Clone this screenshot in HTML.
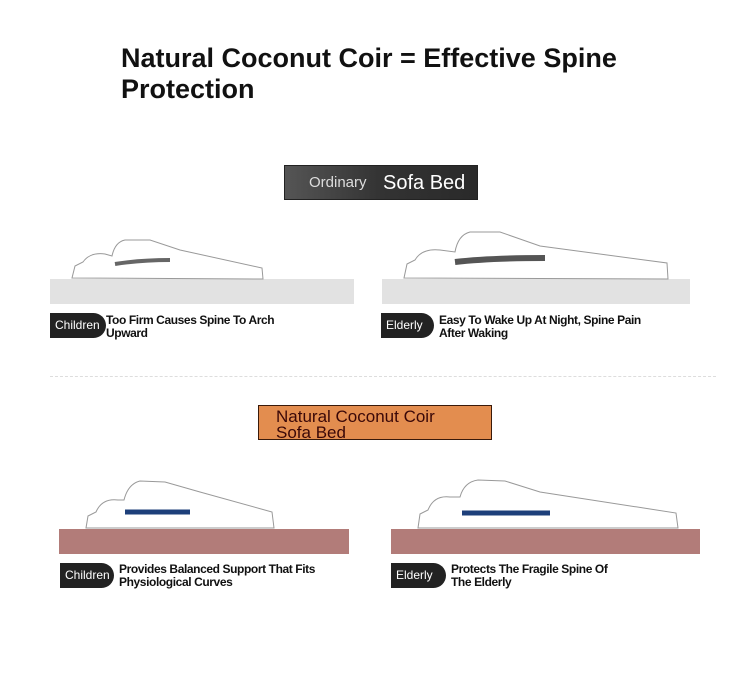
<!DOCTYPE html>
<html><head><style>
body{margin:0;width:750px;height:692px;background:#fff;position:relative;font-family:"Liberation Sans",sans-serif;overflow:hidden}
.a{position:absolute}
.t{font-weight:bold;font-size:27px;color:#111;line-height:31px;left:121px;top:43px}
.m1{background:#e2e2e2}
.m2{background:#b27c79}
.pill{background:#222;color:#fff;font-size:12px;line-height:25px;border-radius:0 13px 13px 0;padding-left:5px;box-sizing:border-box;height:25px}
.lbl{font-size:12px;font-weight:bold;line-height:13px;color:#111;letter-spacing:-0.4px}
svg{position:absolute;left:0;top:0}
</style></head><body>
<div class="a t">Natural Coconut Coir = Effective Spine<br>Protection</div>
<div class="a" style="left:284px;top:165px;width:194px;height:35px;background:linear-gradient(90deg,#555,#333 50%,#2a2a2a);border:1px solid #222;box-sizing:border-box;color:#fff">
<span class="a" style="left:24px;top:8px;font-size:15px;color:#ddd">Ordinary</span>
<span class="a" style="left:98px;top:6px;font-size:20px">Sofa Bed</span></div>
<div class="a m1" style="left:50px;top:279px;width:304px;height:25px"></div>
<div class="a m1" style="left:382px;top:279px;width:308px;height:25px"></div>
<div class="a pill" style="left:50px;top:313px;width:56px">Children</div>
<div class="a lbl" style="left:106px;top:314px">Too Firm Causes Spine To Arch<br>Upward</div>
<div class="a pill" style="left:381px;top:313px;width:53px">Elderly</div>
<div class="a lbl" style="left:439px;top:314px">Easy To Wake Up At Night, Spine Pain<br>After Waking</div>
<div class="a" style="left:50px;top:376px;width:666px;border-top:1px dashed #ddd"></div>
<div class="a" style="left:258px;top:405px;width:234px;height:35px;background:#e38d4f;border:1px solid #3a1a0a;box-sizing:border-box;color:#3a0808;font-size:17px;line-height:16px;padding:3px 0 0 17px">Natural Coconut Coir<br>Sofa Bed</div>
<div class="a m2" style="left:59px;top:529px;width:290px;height:25px"></div>
<div class="a m2" style="left:391px;top:529px;width:309px;height:25px"></div>
<div class="a pill" style="left:60px;top:563px;width:54px">Children</div>
<div class="a lbl" style="left:119px;top:563px">Provides Balanced Support That Fits<br>Physiological Curves</div>
<div class="a pill" style="left:391px;top:563px;width:55px">Elderly</div>
<div class="a lbl" style="left:451px;top:563px">Protects The Fragile Spine Of<br>The Elderly</div>
<svg width="750" height="692" fill="#fff" stroke="#999" stroke-width="1">
<path d="M72 278 L75 266 L83 262 Q90 252 105 254 L112 256 Q115 242 125 240 L150 240 L180 250 L262 268 L263 279 Z"/>
<path d="M115 264 Q140 260 170 260" stroke="#666" stroke-width="4"/>
<path d="M404 278 L407 264 L415 260 Q422 248 440 250 L455 252 Q458 235 470 232 L500 232 L540 246 L667 263 L668 279 Z"/>
<path d="M455 262 Q490 258 545 258" stroke="#555" stroke-width="6"/>
<path d="M86 528 L88 516 L96 512 Q102 498 118 500 L124 500 Q128 484 140 481 L165 482 L200 492 L272 512 L274 528 Z"/>
<path d="M125 512 L190 512" stroke="#1d3f7a" stroke-width="5"/>
<path d="M418 528 L420 514 L428 510 Q434 495 450 497 L460 497 Q464 482 478 480 L505 481 L540 492 L676 513 L678 528 Z"/>
<path d="M462 513 L550 513" stroke="#1d3f7a" stroke-width="5"/>
</svg>
</body></html>
